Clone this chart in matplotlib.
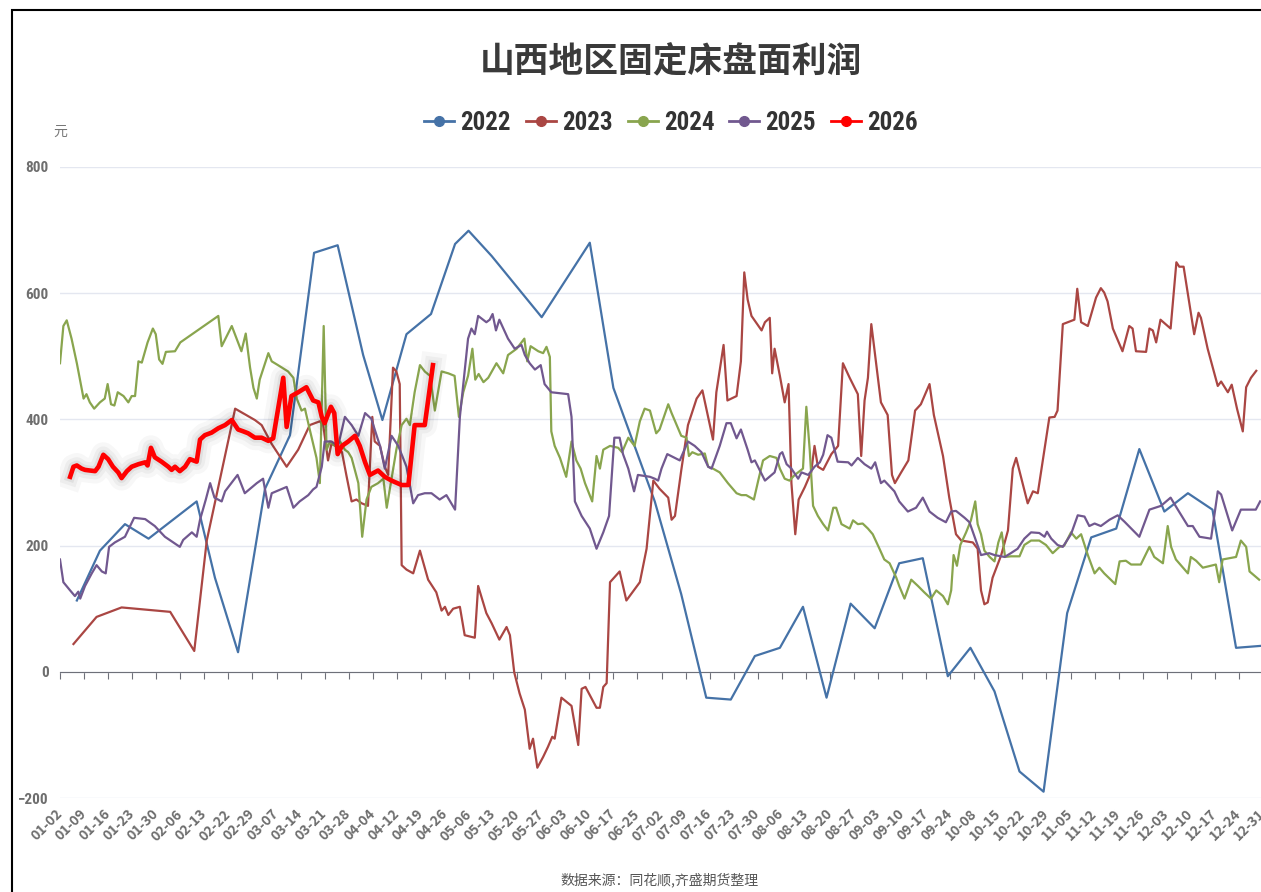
import matplotlib.pyplot as plt
import matplotlib.patheffects as pe
from matplotlib.patches import Rectangle
from matplotlib.lines import Line2D

plt.rcParams['font.family'] = ['Noto Sans CJK SC', 'DejaVu Sans']

# category labels shown on the x axis (one every 5 trading days)
TICK_LABELS = ["01-02", "01-09", "01-16", "01-23", "01-30", "02-06", "02-13", "02-22", "02-29",
               "03-07", "03-14", "03-21", "03-28", "04-04", "04-12", "04-19", "04-26", "05-06",
               "05-13", "05-20", "05-27", "06-03", "06-10", "06-17", "06-25", "07-02", "07-09",
               "07-16", "07-23", "07-30", "08-06", "08-13", "08-20", "08-27", "09-03", "09-10",
               "09-17", "09-24", "10-08", "10-15", "10-22", "10-29", "11-05", "11-12", "11-19",
               "11-26", "12-03", "12-10", "12-17", "12-24", "12-31"]
STEP = 5

# series: category index, value (元)
X2022 = [3.5, 8.3, 13.5, 18.4, 28.4, 32.2, 37.0, 42.6, 47.8, 52.8, 57.7, 63.0, 67.0, 72.0, 77.1,
         82.1, 84.9, 89.7, 100.1, 110.1, 115.0, 123.6, 129.1, 134.3, 139.4, 144.4, 149.6, 154.4,
         159.3, 164.3, 169.3, 174.4, 179.3, 184.5, 189.2, 194.2, 199.4, 204.4, 209.3, 214.3,
         219.5, 224.3, 229.5, 234.4, 239.5, 244.4, 249.4]
Y2022 = [113, 192, 234, 211, 270, 149, 31, 290, 375, 664, 676, 502, 399, 535, 567,
         678, 699, 659, 562, 680, 450, 270, 123, -41, -44, 25, 38, 103,
         -41, 108, 69, 172, 180, -7, 38, -31, -158, -190, 93, 213,
         227, 353, 254, 283, 257, 38, 41]

X2023 = [2.8, 7.6, 12.8, 22.9, 27.9, 30.5, 32.9, 36.4, 40.5, 41.9, 44.0, 47.1, 49.5, 51.9, 54.0,
         54.7, 55.7, 56.4, 57.7, 58.6, 59.5, 60.6, 61.6, 62.7, 64.0, 64.9, 65.4, 66.5, 67.5, 68.2,
         69.2, 69.9, 70.6, 71.0, 72.0, 73.4, 74.8, 76.5, 78.2, 79.3, 80.0, 80.7, 81.7, 83.1, 84.1,
         86.2, 86.9, 88.6, 89.7, 91.3, 92.8, 93.5, 94.4, 95.5, 96.6, 97.6, 98.3, 99.2, 100.4,
         101.4, 102.3, 102.8, 104.2, 106.3, 107.7, 108.4, 109.2, 111.5, 112.2, 112.9, 113.6,
         114.3, 116.3, 117.7, 120.5, 121.9, 123.3, 124.6, 126.4, 127.1, 127.8, 129.1, 130.5,
         132.3, 133.5, 135.7, 136.4, 137.9, 138.7, 140.6, 141.5, 142.2, 142.9, 143.7, 145.8,
         146.5, 147.5, 148.0, 148.5, 149.6, 150.6, 151.4, 152.0, 152.8, 153.5, 154.8, 156.1,
         156.8, 157.5, 158.6, 160.3, 161.7, 162.7, 164.1, 165.8, 166.5, 167.2, 167.9, 168.6,
         170.6, 172.0, 172.9, 173.5, 174.8, 176.3, 177.7, 178.9, 180.7, 181.6, 183.5, 184.8,
         186.2, 187.3, 189.7, 190.7, 191.4, 192.1, 192.8, 193.8, 195.6, 197.0, 198.0, 198.7,
         199.7, 201.1, 202.2, 203.2, 205.6, 206.7, 207.3, 208.4, 210.8, 211.4, 212.2, 213.6,
         215.3, 216.3, 217.0, 217.7, 218.8, 220.8, 222.2, 222.9, 223.6, 225.7, 226.4, 227.1,
         227.8, 228.7, 230.8, 232.0, 232.6, 233.5, 235.7, 236.6, 237.1, 238.5, 240.6, 241.3,
         242.7, 243.5, 244.6, 245.8, 246.5, 247.5, 248.6]
Y2023 = [44, 87, 102, 95, 33, 208, 293, 417, 399, 391, 361, 325, 352, 391, 397,
         391, 335, 361, 358, 348, 312, 270, 273, 267, 263, 404, 365, 358, 325, 312,
         482, 476, 456, 169, 162, 156, 192, 146, 126, 97, 103, 90, 100, 103, 58,
         54, 136, 93, 77, 51, 71, 58, -1, -34, -60, -122, -106, -152, -135,
         -119, -103, -106, -41, -54, -116, -27, -24, -57, -57, -24, -18,
         142, 159, 113, 142, 195, 303, 290, 276, 241, 247, 319, 391,
         433, 446, 368, 443, 518, 430, 437, 492, 633, 590, 564, 541,
         554, 561, 473, 512, 469, 427, 456, 299, 218, 273, 293, 316,
         358, 325, 320, 345, 358, 489, 466, 440, 342, 430, 466, 551,
         427, 407, 312, 299, 316, 335, 414, 424, 456, 407, 342, 276,
         218, 208, 205, 195, 129, 107, 110, 149, 185, 224, 322, 339,
         309, 267, 286, 283, 403, 404, 414, 551, 558, 607, 554, 548,
         593, 608, 601, 587, 544, 508, 548, 544, 508, 507, 544, 541,
         522, 558, 544, 649, 642, 642, 535, 569, 561, 512, 453, 460,
         443, 455, 417, 381, 451, 466, 477]

X2024 = [0, 0.7, 1.4, 2.4, 3.5, 4.9, 5.5, 6.2, 7.1, 8.3, 9.3, 9.9, 10.6, 11.3, 12.0, 13.2, 14.2,
         14.9, 15.6, 16.3, 17.0, 18.2, 19.3, 19.9, 20.6, 21.3, 22.0, 23.9, 25.0, 32.9, 33.6,
         35.7, 37.7, 38.6, 39.5, 40.2, 40.9, 41.5, 43.3, 44.0, 45.3, 47.4, 48.5, 49.2, 50.2,
         50.9, 51.9, 53.3, 54.0, 54.8, 55.4, 56.1, 57.1, 58.2, 59.2, 59.9, 60.6, 62.0, 62.8,
         63.7, 64.7, 66.1, 67.2, 67.9, 68.9, 69.9, 71.0, 72.0, 72.7, 73.7, 74.8, 75.8, 76.9,
         77.9, 79.3, 80.7, 82.0, 82.9, 83.8, 84.8, 85.7, 86.3, 87.0, 88.0, 89.0, 90.7, 92.1,
         93.1, 94.9, 96.5, 97.1, 97.8, 99.4, 100.4, 101.1, 101.8, 102.1, 102.8, 103.9, 105.2,
         106.3, 107.3, 108.2, 109.1, 110.6, 111.5, 112.2, 112.9, 114.3, 116.0, 116.8, 118.1,
         119.4, 120.5, 121.5, 122.6, 123.9, 124.6, 126.4, 127.1, 129.1, 130.2, 130.7, 131.4,
         132.6, 134.0, 134.7, 135.7, 137.1, 138.8, 140.6, 141.6, 142.6, 144.2, 145.1, 146.1,
         147.5, 148.9, 149.6, 150.6, 151.6, 152.7, 154.4, 155.1, 155.8, 156.5, 157.5, 158.6,
         159.6, 160.7, 161.3, 162.4, 164.1, 164.8, 165.8, 166.8, 167.9, 168.9, 170.3, 171.3,
         172.4, 173.8, 174.4, 175.5, 176.9, 178.3, 179.6, 181.0, 182.1, 183.5, 184.5, 185.2,
         185.7, 186.4, 187.1, 188.3, 189.3, 190.2, 190.7, 191.4, 192.1, 193.2, 194.2, 195.0,
         195.7, 196.4, 197.6, 199.4, 200.4, 201.8, 203.5, 204.9, 206.3, 207.7, 208.7, 210.1,
         211.2, 212.2, 213.6, 215.0, 216.0, 217.0, 219.3, 220.2, 221.5, 222.6, 224.6, 226.4,
         227.4, 229.2, 230.2, 230.9, 231.9, 234.4, 235.0, 236.1, 237.5, 240.2, 240.9, 241.6,
         244.4, 245.4, 246.5, 247.2, 249.2]
Y2024 = [489, 548, 557, 528, 489, 433, 440, 427, 417, 427, 433, 456, 424, 422, 443, 437, 427,
         437, 437, 492, 490, 522, 544, 535, 495, 488, 507, 508, 522, 564, 516,
         548, 508, 536, 482, 450, 433, 463, 505, 492, 486, 476, 466, 433, 414,
         417, 384, 339, 299, 548, 352, 365, 358, 365, 352, 348, 339, 299, 214,
         273, 293, 299, 306, 260, 306, 352, 391, 401, 391, 443, 486, 476, 469,
         414, 476, 473, 469, 404, 443, 469, 512, 463, 472, 459, 466, 489, 473,
         502, 512, 528, 492, 516, 508, 505, 515, 499, 381, 358, 339, 309,
         365, 335, 322, 299, 270, 342, 322, 352, 358, 355, 348, 371,
         358, 397, 417, 414, 378, 384, 424, 410, 374, 371, 342, 348,
         344, 346, 325, 322, 316, 299, 283, 280, 280, 273, 303, 335,
         342, 339, 322, 306, 303, 312, 322, 420, 352, 263, 247, 234,
         224, 260, 260, 234, 227, 240, 234, 235, 227, 218, 195, 178,
         172, 149, 136, 116, 146, 136, 126, 116, 129, 120, 107, 129,
         185, 168, 201, 221, 240, 270, 234, 218, 192, 182, 175, 205,
         221, 182, 183, 183, 201, 208, 208, 201, 188, 198, 200, 221,
         211, 218, 185, 156, 165, 156, 139, 175, 176, 170, 170, 198,
         182, 172, 231, 198, 178, 156, 182, 176, 165, 170, 142, 178,
         182, 208, 198, 159, 146]

X2025 = [0, 0.7, 2.1, 3.1, 3.8, 4.2, 5.2, 6.6, 7.6, 8.7, 9.5, 10.2, 11.4, 13.5, 15.4, 17.7, 19.7,
         21.8, 24.9, 25.6, 27.4, 28.4, 29.1, 30.3, 31.2, 32.1, 33.6, 34.3, 36.9, 38.4, 40.9,
         42.2, 43.3, 44.0, 47.1, 48.5, 49.8, 51.6, 52.6, 53.3, 54.4, 55.0, 56.4, 57.8, 59.2,
         60.6, 62.0, 63.4, 64.7, 65.4, 66.5, 67.5, 68.9, 70.3, 72.0, 73.4, 74.4, 75.8, 77.2,
         78.9, 80.3, 82.1, 83.1, 84.8, 85.5, 86.2, 86.9, 88.6, 89.3, 89.9, 90.6, 91.3, 93.1,
         94.5, 95.9, 96.6, 97.6, 98.7, 99.9, 100.7, 102.1, 105.6, 106.3, 107.0, 108.4, 110.1,
         111.5, 112.9, 114.1, 115.2, 116.3, 117.0, 118.1, 119.3, 120.1, 122.6, 123.6, 124.3,
         125.0, 126.2, 128.8, 130.5, 131.9, 133.3, 134.7, 135.4, 137.1, 138.5, 139.4, 140.6,
         141.5, 142.9, 143.7, 144.4, 146.5, 148.5, 149.6, 150.1, 151.0, 152.0, 153.4, 154.1,
         155.5, 156.8, 157.9, 158.6, 159.5, 160.3, 161.6, 163.8, 164.5, 165.8, 167.2, 168.6,
         169.4, 170.6, 171.3, 173.4, 174.4, 176.2, 177.9, 179.3, 180.7, 182.4, 184.1, 185.2,
         186.2, 188.0, 189.0, 191.4, 193.1, 194.2, 196.3, 197.6, 199.0, 200.4, 201.8, 203.5,
         204.6, 205.1, 206.0, 207.3, 208.4, 210.1, 211.5, 212.9, 213.9, 215.0, 216.3, 218.1,
         219.8, 221.2, 224.3, 226.4, 228.8, 230.8, 232.3, 234.4, 235.4, 236.8, 239.2, 240.6,
         241.3, 243.6, 245.4, 248.5, 249.4]
Y2025 = [178, 142, 129, 120, 127, 116, 136, 156, 169, 159, 156, 198, 205, 214, 244, 242, 231,
         214, 198, 209, 221, 214, 241, 273, 299, 276, 270, 286, 312, 283, 299,
         306, 260, 283, 293, 260, 270, 280, 289, 293, 325, 365, 365, 358, 404,
         391, 374, 410, 401, 384, 358, 322, 374, 358, 325, 267, 280, 283, 283,
         273, 280, 257, 404, 528, 544, 535, 564, 554, 558, 567, 541, 558, 528,
         512, 518, 502, 489, 479, 486, 456, 443, 440, 404, 270, 247, 227,
         195, 221, 247, 371, 371, 345, 322, 286, 312, 309, 306, 303,
         322, 345, 335, 365, 358, 348, 325, 322, 358, 394, 394, 370,
         384, 352, 332, 335, 303, 316, 345, 348, 329, 322, 306, 316,
         312, 325, 332, 344, 375, 371, 333, 332, 327, 339, 329, 322,
         332, 299, 303, 286, 270, 254, 260, 276, 254, 244, 237, 254,
         255, 244, 237, 185, 188, 185, 182, 188, 195, 211, 221, 220,
         214, 222, 211, 201, 198, 218, 248, 246, 231, 235, 231, 241,
         248, 238, 214, 257, 263, 276, 257, 231, 231, 214, 211, 286,
         281, 224, 257, 257, 270]

X2026 = [2.1, 2.8, 3.5, 4.5, 5.2, 6.2, 7.3, 8.0, 9.0, 10.0, 11.0, 12.1, 12.8, 13.9, 14.9, 16.3,
         17.7, 18.2, 18.9, 19.7, 21.1, 22.5, 23.2, 23.9, 24.9, 26.0, 27.0, 28.4, 29.1, 30.1,
         31.5, 32.9, 34.3, 35.7, 37.0, 38.1, 39.1, 40.5, 41.9, 43.3, 44.3, 46.4, 47.1, 48.1,
         49.5, 51.2, 52.6, 53.7, 54.4, 55.0, 56.3, 57.0, 57.7, 58.6, 59.9, 61.3, 62.3, 63.4,
         64.4, 66.1, 67.5, 68.9, 71.0, 72.4, 73.7, 75.8, 77.5]
Y2026 = [309, 325, 327, 322, 320, 319, 318, 325, 344, 337, 325, 316, 307, 318, 325, 329,
         332, 327, 355, 340, 333, 325, 320, 325, 318, 325, 337, 333, 368, 375,
         379, 386, 391, 399, 384, 381, 378, 371, 371, 366, 370, 466, 388, 437,
         443, 451, 430, 427, 404, 394, 420, 410, 345, 358, 365, 374, 358, 332,
         312, 319, 309, 303, 296, 296, 391, 391, 486]

YEARS = ["2022", "2023", "2024", "2025", "2026"]
COLORS = ["#4572A7", "#AA4643", "#89A54E", "#71588F", "#FF0000"]
SERIES = [(X2022, Y2022), (X2023, Y2023), (X2024, Y2024), (X2025, Y2025), (X2026, Y2026)]

NARROW = ["Liberation Sans Narrow", "DejaVu Sans Condensed", "Roboto Condensed", "Roboto"]

W, H = 1261, 892
fig = plt.figure(figsize=(W / 100, H / 100), dpi=100)
ax = fig.add_axes([60 / W, (H - 798) / H, (1263 - 60) / W, (798 - 167) / H])

for (xs, ys), year, c in zip(SERIES, YEARS, COLORS):
    if year == "2026":
        ax.plot(xs, ys, color=c, lw=3.3, zorder=5, solid_joinstyle="round",
                path_effects=[pe.Stroke(linewidth=18, foreground="#000000", alpha=0.03),
                              pe.Stroke(linewidth=12, foreground="#000000", alpha=0.04),
                              pe.Stroke(linewidth=7, foreground="#000000", alpha=0.06),
                              pe.Normal()])
    else:
        ax.plot(xs, ys, color=c, lw=1.6, zorder=3)

n_cat = STEP * (len(TICK_LABELS) - 1)
ax.set_xlim(0, n_cat)
ax.set_ylim(-200, 800)
ax.set_yticks(range(-200, 801, 200))
ax.yaxis.grid(True, color="#E4E7F0", lw=1)
ax.set_axisbelow(True)
for s in ["top", "right", "left"]:
    ax.spines[s].set_visible(False)
ax.spines["bottom"].set_position(("data", 0))
ax.spines["bottom"].set_color("#6E7079")
ax.tick_params(axis="y", length=0, pad=8, labelcolor="#6E6E6E")
for t in ax.get_yticklabels():
    t.set_fontfamily(NARROW)
    t.set_fontsize(11)
    t.set_fontweight("bold")
ticks = list(range(0, n_cat + 1, STEP))
ax.set_xticks(ticks)
ax.tick_params(axis="x", length=5, color="#6E7079", labelbottom=False)

sec = ax.secondary_xaxis(0)
sec.set_xticks(ticks, TICK_LABELS)
sec.tick_params(length=0, pad=10, labelsize=10, labelcolor="#6E6E6E")
sec.spines["bottom"].set_visible(False)
for t in sec.get_xticklabels():
    t.set_rotation(45)
    t.set_ha("right")
    t.set_va("center")
    t.set_rotation_mode("anchor")
    t.set_fontweight("bold")

ax.text(0, 1.055, "元", transform=ax.transAxes, fontsize=10, color="#777777",
        ha="center", va="center")

fig.text(671 / W, 1 - 62 / H, "山西地区固定床盘面利润", fontsize=25, fontweight="bold",
         color="#3A3A3A", ha="center", va="center")

handles = [Line2D([], [], color=c, lw=2, marker="o", markersize=7) for c in COLORS]
fig.legend(handles, YEARS, loc="center", bbox_to_anchor=(671 / W, 1 - 123 / H), ncol=5,
           frameon=False, handlelength=1.2, handletextpad=0.25, columnspacing=0.6,
           prop={"family": NARROW, "size": 18, "weight": "bold"},
           labelcolor="#333333")

fig.text(660 / W, 1 - 880 / H, "数据来源：同花顺,齐盛期货整理", fontsize=10,
         color="#555555", ha="center", va="center")

fig.patches.append(Rectangle((12 / W, -0.1), 1.2, 1.1 - 10 / H, transform=fig.transFigure,
                             fill=False, edgecolor="black", lw=1.5))

fig.savefig("out.png", dpi=100)
